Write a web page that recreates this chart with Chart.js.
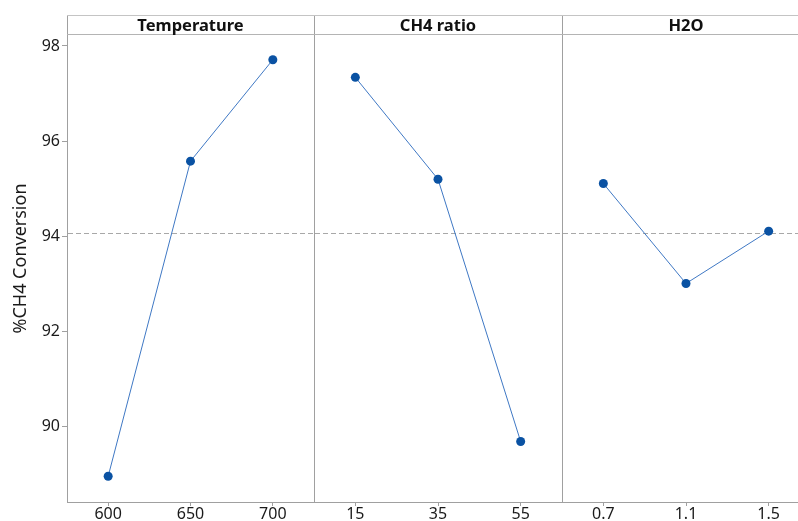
<!DOCTYPE html>
<html>
<head>
<meta charset="utf-8">
<script src="https://cdn.jsdelivr.net/npm/chart.js@4.4.1/dist/chart.umd.min.js"></script>
<style>
  html, body { margin: 0; padding: 0; background: #fff; }
  #wrap { position: relative; width: 798px; height: 521px; overflow: hidden; background: #fff; }
  canvas { position: absolute; top: 0; }
  #hdr { position: absolute; left: 67px; top: 15px; width: 760px; height: 20px; box-sizing: border-box;
         border-top: 1px solid #c4c4c4; border-bottom: 1px solid #b4b4b4; pointer-events: none; }
  .ptitle { position: absolute; top: 15px; height: 20px; line-height: 19px; text-align: center;
            font-family: "Noto Sans", sans-serif; font-weight: bold; font-size: 16.5px; color: #111; }
</style>
</head>
<body>
<div id="wrap">
  <canvas id="c1" width="314" height="521" style="left:0px"></canvas>
  <canvas id="c2" width="248" height="521" style="left:314px"></canvas>
  <canvas id="c3" width="248" height="521" style="left:562px"></canvas>
  <div id="hdr"></div>
  <div class="ptitle" id="t1" style="left:67px;width:247px"></div>
  <div class="ptitle" id="t2" style="left:314px;width:248px"></div>
  <div class="ptitle" id="t3" style="left:562px;width:248px"></div>
</div>
<script>
// ---- data ----
const panelTitles = ['Temperature', 'CH4 ratio', 'H2O'];
const tempLevels = ['600', '650', '700'];
const tempMeans  = [88.96, 95.58, 97.71];
const ch4Levels  = ['15', '35', '55'];
const ch4Means   = [97.34, 95.20, 89.69];
const h2oLevels  = ['0.7', '1.1', '1.5'];
const h2oMeans   = [95.11, 93.01, 94.11];
const yTicks     = [90, 92, 94, 96, 98];
const grandMean  = [94.08];
const yTitle     = '%CH4 Conversion';

document.getElementById('t1').textContent = panelTitles[0];
document.getElementById('t2').textContent = panelTitles[1];
document.getElementById('t3').textContent = panelTitles[2];

const FONT = '"Noto Sans", sans-serif';
const AXIS = '#a0a0a0';
const LINE = '#3f78c4';
const PT = '#0a52a3';

const meanLine = {
  id: 'meanLine',
  beforeDatasetsDraw(chart) {
    const {ctx, chartArea, scales} = chart;
    const y = Math.round(scales.y.getPixelForValue(grandMean[0])) + 0.5;
    ctx.save();
    ctx.strokeStyle = '#a8a8a8';
    ctx.lineWidth = 1;
    ctx.setLineDash([5, 3]);
    ctx.beginPath();
    ctx.moveTo(chartArea.left + 1, y);
    ctx.lineTo(chartArea.right, y);
    ctx.stroke();
    ctx.restore();
  }
};

function makeChart(id, labels, values, first) {
  return new Chart(document.getElementById(id), {
    type: 'line',
    data: {
      labels: labels,
      datasets: [{
        data: values,
        borderColor: LINE,
        borderWidth: 1,
        pointBackgroundColor: PT,
        pointBorderColor: PT,
        pointRadius: 4.5,
        pointBorderWidth: 0,
        tension: 0,
        fill: false,
        clip: false
      }]
    },
    options: {
      responsive: false,
      animation: false,
      devicePixelRatio: 1,
      layout: { autoPadding: false, padding: { top: 15, left: 0, right: 0, bottom: 0 } },
      plugins: { legend: { display: false }, tooltip: { enabled: false }, title: { display: false } },
      scales: {
        x: {
          type: 'category',
          offset: true,
          grid: { display: true, drawOnChartArea: false, drawTicks: true, tickLength: 4, color: AXIS, offset: false },
          border: { display: true, color: AXIS, width: 1 },
          ticks: { color: '#1a1a1a', padding: 0, font: { family: FONT, size: 16, lineHeight: 1 }, maxRotation: 0 },
          afterFit(scale) { scale.height = 19; }
        },
        y: {
          min: 88.42,
          max: 98.65,
          afterBuildTicks(scale) { scale.ticks = yTicks.map(v => ({ value: v })); },
          grid: { display: true, drawOnChartArea: false, drawTicks: first, tickLength: 5, color: AXIS },
          border: { display: true, color: AXIS, width: 1 },
          ticks: { display: first, color: '#1a1a1a', padding: 2, font: { family: FONT, size: 16 } },
          title: first ? { display: true, text: yTitle, color: '#1a1a1a', font: { family: FONT, size: 18 },
                           padding: { top: 10, bottom: 0 } } : { display: false },
          afterFit(scale) { scale.width = first ? 67 : 0; }
        }
      }
    },
    plugins: [meanLine]
  });
}

makeChart('c1', tempLevels, tempMeans, true);
makeChart('c2', ch4Levels, ch4Means, false);
makeChart('c3', h2oLevels, h2oMeans, false);
</script>
</body>
</html>
